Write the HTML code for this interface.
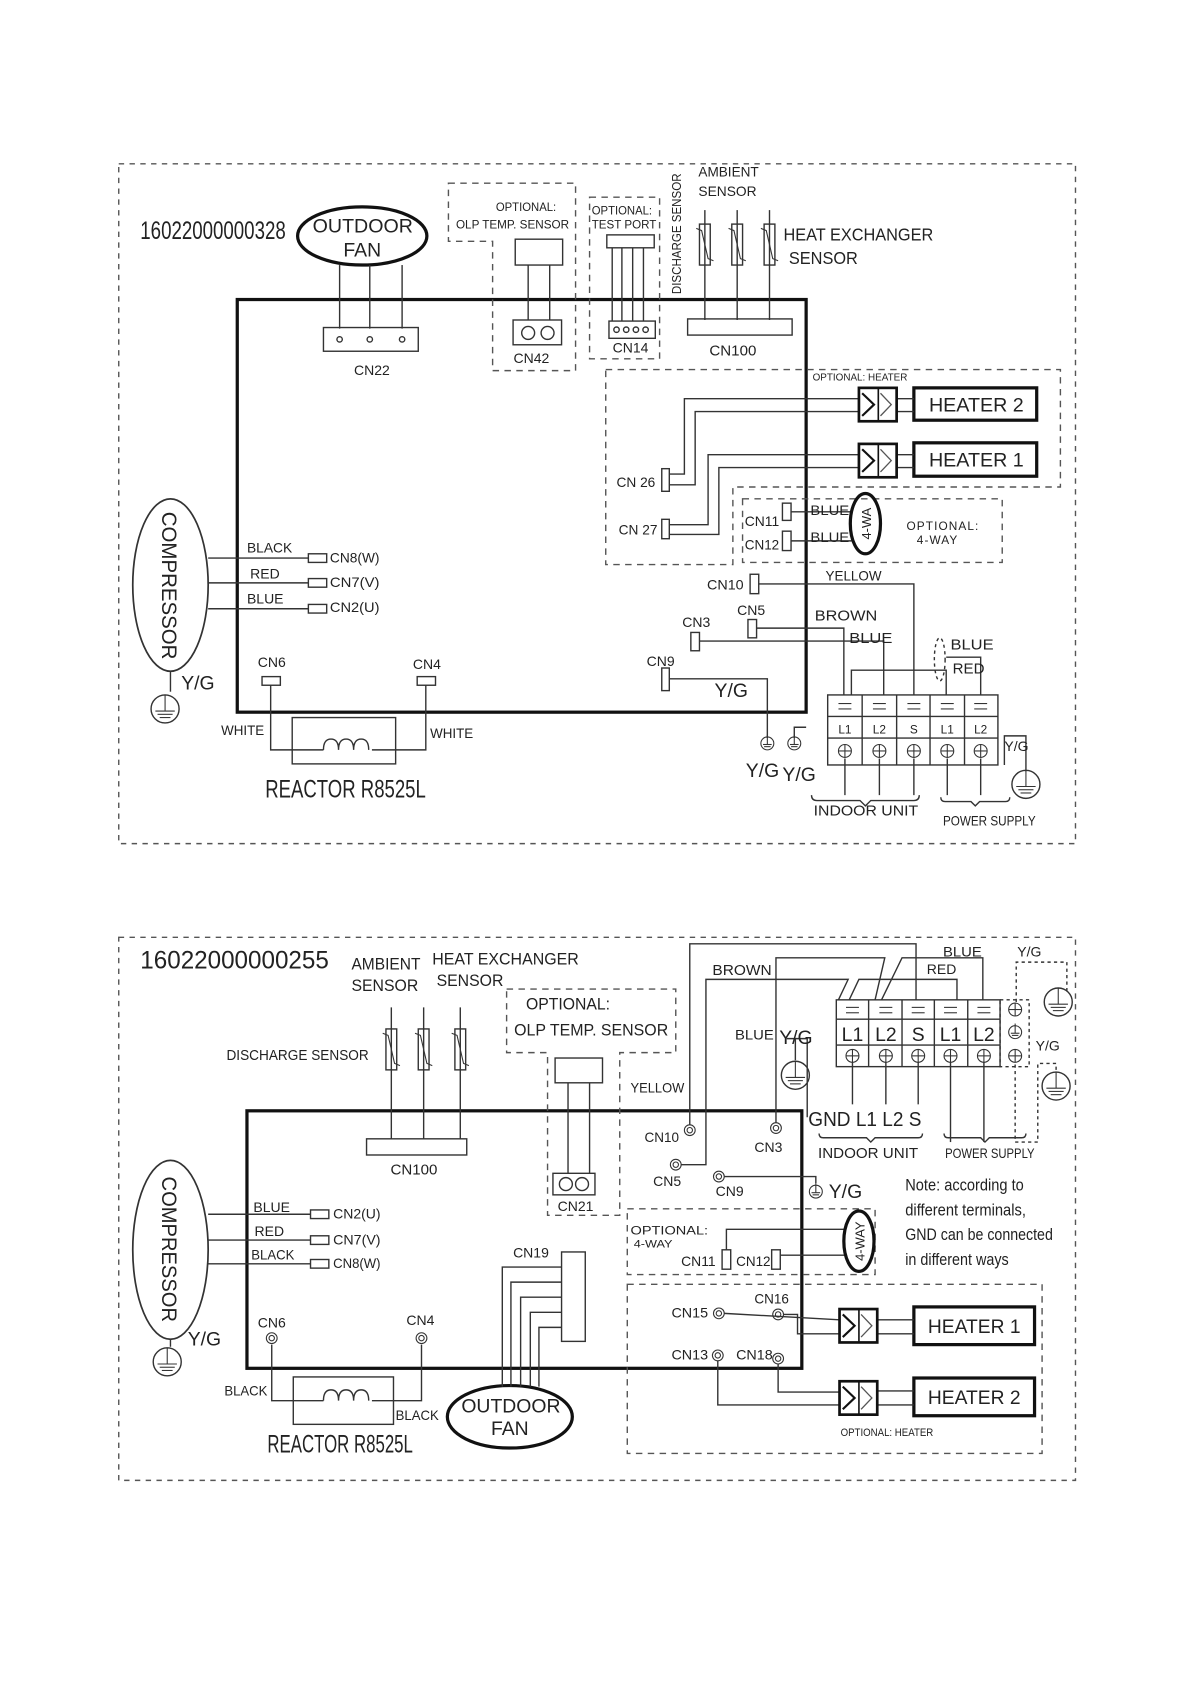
<!DOCTYPE html>
<html><head><meta charset="utf-8"><style>
html,body{margin:0;padding:0;background:#fff;}
svg{display:block;}
text{font-family:"Liberation Sans Narrow","Liberation Sans",sans-serif;fill:#222;}
</style></head><body>
<svg width="1191" height="1684" viewBox="0 0 1105 1563" xmlns="http://www.w3.org/2000/svg">
<defs>
<g id="gnd"><circle cx="0" cy="0" r="13" fill="none" stroke="#333" stroke-width="1.3"/><line x1="0" y1="-13" x2="0" y2="2" stroke="#333"/><line x1="-9" y1="2" x2="9" y2="2" stroke="#333"/><line x1="-7" y1="5" x2="7" y2="5" stroke="#333"/><line x1="-5" y1="8" x2="5" y2="8" stroke="#333"/></g>
<g id="sgnd"><circle cx="0" cy="0" r="6" fill="none" stroke="#333"/><line x1="0" y1="-8" x2="0" y2="1" stroke="#333"/><line x1="-4" y1="1" x2="4" y2="1" stroke="#333"/><line x1="-3" y1="3" x2="3" y2="3" stroke="#333"/></g>
<g id="therm"><rect x="-5" y="0" width="10" height="38" fill="none" stroke="#333" stroke-width="1.3"/><polyline points="-8,4 -3,6 3,32 8,34" fill="none" stroke="#333"/></g>
<g id="relay"><rect x="0" y="0" width="35" height="31" fill="none" stroke="#111" stroke-width="2.5"/><line x1="18" y1="0" x2="18" y2="31" stroke="#111" stroke-width="1.5"/><polyline points="3,5 14,15.5 3,26" fill="none" stroke="#111" stroke-width="2"/><polyline points="20,5 30,15.5 20,26" fill="none" stroke="#555" stroke-width="1.2"/></g>
<g id="cc"><circle r="5" fill="none" stroke="#333"/><circle r="2.5" fill="none" stroke="#333"/></g>
<g id="tp"><circle r="6" fill="none" stroke="#333"/><line x1="-6" y1="0" x2="6" y2="0" stroke="#333"/><line x1="0" y1="-6" x2="0" y2="6" stroke="#333"/></g>
<g id="eq"><line x1="-6" y1="-2" x2="6" y2="-2" stroke="#333"/><line x1="-6" y1="3" x2="6" y2="3" stroke="#333"/></g>
</defs>
<g fill="none" stroke="#555" stroke-width="1.3">
<rect x="110" y="152" width="888" height="631" stroke-dasharray="5,5"/>
</g>
<g fill="none" stroke="#333" stroke-width="1.3">
<rect x="220" y="278" width="528" height="383" stroke="#111" stroke-width="3"/>
<ellipse cx="336" cy="219" rx="60" ry="27" stroke="#111" stroke-width="3"/>
<line x1="315" y1="246" x2="315" y2="305"/><line x1="343" y1="246" x2="343" y2="305"/><line x1="373" y1="246" x2="373" y2="305"/>
<rect x="300" y="304" width="88" height="22"/>
<circle cx="315" cy="315" r="2.5"/><circle cx="343" cy="315" r="2.5"/><circle cx="373" cy="315" r="2.5"/>
<path d="M416 170 H534 V344 H457 V224 H416 Z" stroke-dasharray="6,5" stroke="#555"/>
<rect x="478" y="222" width="44" height="24"/>
<line x1="490" y1="246" x2="490" y2="297"/><line x1="510" y1="246" x2="510" y2="297"/>
<rect x="476" y="297" width="45" height="23"/><circle cx="490" cy="309" r="6"/><circle cx="508" cy="309" r="6"/>
<rect x="547" y="183" width="65" height="150" stroke-dasharray="6,5" stroke="#555"/>
<rect x="563" y="218" width="44" height="12"/>
<line x1="568" y1="230" x2="568" y2="298"/><line x1="577" y1="230" x2="577" y2="298"/><line x1="587" y1="230" x2="587" y2="298"/><line x1="597" y1="230" x2="597" y2="298"/>
<rect x="565" y="298" width="43" height="16"/>
<circle cx="572" cy="306" r="2.5"/><circle cx="581" cy="306" r="2.5"/><circle cx="590" cy="306" r="2.5"/><circle cx="599" cy="306" r="2.5"/>
<line x1="654" y1="195" x2="654" y2="297"/><line x1="684" y1="195" x2="684" y2="297"/><line x1="714" y1="195" x2="714" y2="297"/>
<rect x="638" y="296" width="97" height="15"/>
<path d="M562 343 H984 V452 H680 V524 H562 Z" stroke-dasharray="6,5" stroke="#555"/>
<rect x="689" y="463" width="241" height="59" stroke-dasharray="6,5" stroke="#555"/>
<rect x="848" y="360" width="114" height="30" stroke="#111" stroke-width="3"/>
<rect x="848" y="411" width="114" height="31" stroke="#111" stroke-width="3"/>
<line x1="832" y1="370" x2="848" y2="370"/><line x1="832" y1="382" x2="848" y2="382"/>
<line x1="832" y1="422" x2="848" y2="422"/><line x1="832" y1="434" x2="848" y2="434"/>
<rect x="614" y="435" width="7" height="21"/><rect x="614" y="482" width="7" height="18"/>
<polyline points="621,440 635,440 635,370 797,370"/>
<polyline points="621,450 645,450 645,382 797,382"/>
<polyline points="621,487 657,487 657,422 797,422"/>
<polyline points="621,496 667,496 667,434 797,434"/>
<rect x="726" y="467" width="8" height="16"/><rect x="726" y="493" width="8" height="18"/>
<line x1="734" y1="475" x2="790" y2="475"/><line x1="734" y1="502" x2="790" y2="502"/>
<ellipse cx="803" cy="486" rx="14" ry="28" stroke="#111" stroke-width="3"/>
<rect x="696" y="533" width="8" height="18"/>
<polyline points="704,542 848,542 848,645"/>
<rect x="694" y="575" width="8" height="17"/>
<polyline points="702,583 783,583 783,645"/>
<rect x="641" y="587" width="8" height="17"/>
<polyline points="649,595 820,595 820,645"/>
<rect x="614" y="620" width="7" height="21"/>
<polyline points="621,630 712,630 712,685"/>
<polyline points="737,685 737,675 748,675"/>
<polyline points="790,645 790,622 878,622 878,645"/>
<polyline points="910,645 910,610 878,610"/>
<ellipse cx="872" cy="612" rx="5" ry="20" stroke-dasharray="3,3"/>
<rect x="768" y="645" width="158" height="65"/>
<line x1="768" y1="665" x2="926" y2="665"/><line x1="768" y1="685" x2="926" y2="685"/>
<line x1="800" y1="645" x2="800" y2="710"/><line x1="832" y1="645" x2="832" y2="710"/><line x1="863" y1="645" x2="863" y2="710"/><line x1="895" y1="645" x2="895" y2="710"/>
<line x1="784" y1="704" x2="784" y2="738"/><line x1="816" y1="704" x2="816" y2="738"/><line x1="848" y1="704" x2="848" y2="738"/>
<line x1="879" y1="704" x2="879" y2="738"/><line x1="910" y1="704" x2="910" y2="738"/>
<path d="M753 738 q0 5 5 5 h40 l5 5 l5 -5 h40 q5 0 5 -5"/>
<path d="M873 740 q0 4 4 4 h24 l4 4 l4 -4 h24 q4 0 4 -4"/>
<polyline points="932,710 932,683 952,683 952,716"/>
<ellipse cx="158" cy="543" rx="35" ry="80" stroke-width="1.6"/>
<line x1="193" y1="518" x2="286" y2="518"/><line x1="193" y1="541" x2="286" y2="541"/><line x1="193" y1="565" x2="286" y2="565"/>
<rect x="286" y="514" width="17" height="8"/><rect x="286" y="537" width="17" height="8"/><rect x="286" y="561" width="17" height="8"/>
<line x1="158" y1="623" x2="158" y2="642"/>
<rect x="243" y="628" width="17" height="8"/><rect x="387" y="628" width="17" height="8"/>
<polyline points="251,636 251,696 300,696"/><polyline points="395,636 395,696 345,696"/>
<rect x="271" y="666" width="96" height="43"/>
<path d="M300 696 q0 -10 7 -10 q7 0 7 10 q0 -10 7 -10 q7 0 7 10 q0 -10 7 -10 q7 0 7 10"/>
</g>
<use href="#relay" x="797" y="360"/><use href="#relay" x="797" y="412"/>
<use href="#therm" x="654" y="208"/><use href="#therm" x="684" y="208"/><use href="#therm" x="714" y="208"/>
<use href="#gnd" x="153" y="658"/><use href="#gnd" x="952" y="728"/>
<use href="#sgnd" x="712" y="690"/><use href="#sgnd" x="737" y="690"/>
<use href="#eq" x="784" y="655"/><use href="#eq" x="816" y="655"/><use href="#eq" x="848" y="655"/><use href="#eq" x="879" y="655"/><use href="#eq" x="910" y="655"/>
<use href="#tp" x="784" y="697"/><use href="#tp" x="816" y="697"/><use href="#tp" x="848" y="697"/><use href="#tp" x="879" y="697"/><use href="#tp" x="910" y="697"/>

<g font-size="13" lengthAdjust="spacingAndGlyphs">
<text x="130" y="222" font-size="23" textLength="135" lengthAdjust="spacingAndGlyphs">16022000000328</text>
<text x="290" y="216" font-size="18" textLength="93" lengthAdjust="spacingAndGlyphs">OUTDOOR</text>
<text x="336" y="238" font-size="18" text-anchor="middle">FAN</text>
<text x="345" y="348" text-anchor="middle">CN22</text>
<text x="460" y="196" font-size="11" textLength="56" lengthAdjust="spacingAndGlyphs">OPTIONAL:</text>
<text x="423" y="212" font-size="11" textLength="105" lengthAdjust="spacingAndGlyphs">OLP TEMP. SENSOR</text>
<text x="493" y="337" text-anchor="middle">CN42</text>
<text x="549" y="199" font-size="11" textLength="56" lengthAdjust="spacingAndGlyphs">OPTIONAL:</text>
<text x="549" y="212" font-size="11" textLength="60" lengthAdjust="spacingAndGlyphs">TEST PORT</text>
<text x="585" y="327" text-anchor="middle">CN14</text>
<text transform="translate(632,273) rotate(-90)" font-size="12" textLength="112" lengthAdjust="spacingAndGlyphs">DISCHARGE SENSOR</text>
<text x="648" y="164" textLength="56" lengthAdjust="spacingAndGlyphs">AMBIENT</text>
<text x="648" y="182" textLength="54" lengthAdjust="spacingAndGlyphs">SENSOR</text>
<text x="727" y="223" font-size="16" textLength="139" lengthAdjust="spacingAndGlyphs">HEAT EXCHANGER</text>
<text x="732" y="245" font-size="16" textLength="64" lengthAdjust="spacingAndGlyphs">SENSOR</text>
<text x="680" y="330" font-size="14" text-anchor="middle">CN100</text>
<text x="754" y="353" font-size="9" textLength="88" lengthAdjust="spacingAndGlyphs">OPTIONAL: HEATER</text>
<text x="862" y="382" font-size="18" textLength="88" lengthAdjust="spacingAndGlyphs">HEATER 2</text>
<text x="862" y="433" font-size="18" textLength="88" lengthAdjust="spacingAndGlyphs">HEATER 1</text>
<text x="572" y="452" textLength="36" lengthAdjust="spacingAndGlyphs">CN 26</text>
<text x="574" y="496" textLength="36" lengthAdjust="spacingAndGlyphs">CN 27</text>
<text x="691" y="488" textLength="32" lengthAdjust="spacingAndGlyphs">CN11</text>
<text x="691" y="510" textLength="32" lengthAdjust="spacingAndGlyphs">CN12</text>
<text x="752" y="478" textLength="36" lengthAdjust="spacingAndGlyphs">BLUE</text>
<text x="752" y="503" textLength="36" lengthAdjust="spacingAndGlyphs">BLUE</text>
<text transform="translate(808,486) rotate(-90)" font-size="12" text-anchor="middle">4-WA</text>
<text x="875" y="492" font-size="11" text-anchor="middle" letter-spacing="1">OPTIONAL:</text>
<text x="870" y="505" font-size="11" text-anchor="middle" letter-spacing="1">4-WAY</text>
<text x="656" y="547" textLength="34" lengthAdjust="spacingAndGlyphs">CN10</text>
<text x="766" y="539" textLength="52" lengthAdjust="spacingAndGlyphs">YELLOW</text>
<text x="684" y="571">CN5</text>
<text x="633" y="582">CN3</text>
<text x="756" y="576" font-size="14" textLength="58" lengthAdjust="spacingAndGlyphs">BROWN</text>
<text x="788" y="597" font-size="14" textLength="40" lengthAdjust="spacingAndGlyphs">BLUE</text>
<text x="600" y="618">CN9</text>
<text x="663" y="647" font-size="18">Y/G</text>
<text x="882" y="603" font-size="14" textLength="40" lengthAdjust="spacingAndGlyphs">BLUE</text>
<text x="884" y="625" font-size="14">RED</text>
<text x="784" y="681" font-size="11" text-anchor="middle">L1</text>
<text x="816" y="681" font-size="11" text-anchor="middle">L2</text>
<text x="848" y="681" font-size="11" text-anchor="middle">S</text>
<text x="879" y="681" font-size="11" text-anchor="middle">L1</text>
<text x="910" y="681" font-size="11" text-anchor="middle">L2</text>
<text x="932" y="697">Y/G</text>
<text x="692" y="721" font-size="18">Y/G</text>
<text x="726" y="725" font-size="18">Y/G</text>
<text x="755" y="757" font-size="14" textLength="97" lengthAdjust="spacingAndGlyphs">INDOOR UNIT</text>
<text x="875" y="766" font-size="13" textLength="86" lengthAdjust="spacingAndGlyphs">POWER SUPPLY</text>
<text transform="translate(150,475) rotate(90)" font-size="20" textLength="137" lengthAdjust="spacingAndGlyphs">COMPRESSOR</text>
<text x="229" y="513" textLength="42" lengthAdjust="spacingAndGlyphs">BLACK</text>
<text x="232" y="537">RED</text>
<text x="229" y="560">BLUE</text>
<text x="306" y="522" textLength="46" lengthAdjust="spacingAndGlyphs">CN8(W)</text>
<text x="306" y="545" textLength="46" lengthAdjust="spacingAndGlyphs">CN7(V)</text>
<text x="306" y="568" textLength="46" lengthAdjust="spacingAndGlyphs">CN2(U)</text>
<text x="168" y="640" font-size="18">Y/G</text>
<text x="252" y="619" text-anchor="middle">CN6</text>
<text x="396" y="621" text-anchor="middle">CN4</text>
<text x="205" y="682" textLength="40" lengthAdjust="spacingAndGlyphs">WHITE</text>
<text x="399" y="685" textLength="40" lengthAdjust="spacingAndGlyphs">WHITE</text>
<text x="246" y="740" font-size="23" textLength="149" lengthAdjust="spacingAndGlyphs">REACTOR R8525L</text>
</g>

<!-- BOTTOM -->
<g fill="none" stroke="#333" stroke-width="1.3">
<rect x="110" y="870" width="888" height="504" stroke-dasharray="5,5" stroke="#555"/>
<rect x="229" y="1031" width="515" height="239" stroke="#111" stroke-width="3"/>
<line x1="363" y1="935" x2="363" y2="1057"/><line x1="393" y1="935" x2="393" y2="1057"/><line x1="427" y1="935" x2="427" y2="1057"/>
<rect x="340" y="1057" width="93" height="15"/>
<path d="M470 918 H627 V977 H575 V1128 H508 V977 H470 Z" stroke-dasharray="6,5" stroke="#555"/>
<rect x="515" y="982" width="44" height="23"/>
<line x1="527" y1="1005" x2="527" y2="1089"/><line x1="547" y1="1005" x2="547" y2="1089"/>
<rect x="513" y="1089" width="39" height="20"/><circle cx="525" cy="1099" r="6"/><circle cx="540" cy="1099" r="6"/>
<ellipse cx="158" cy="1160" rx="35" ry="83" stroke-width="1.6"/>
<line x1="193" y1="1127" x2="288" y2="1127"/><line x1="193" y1="1151" x2="288" y2="1151"/><line x1="193" y1="1173" x2="288" y2="1173"/>
<rect x="288" y="1123" width="17" height="8"/><rect x="288" y="1147" width="17" height="8"/><rect x="288" y="1169" width="17" height="8"/>
<line x1="158" y1="1243" x2="158" y2="1250"/>
<polyline points="252,1248 252,1300 300,1300"/><polyline points="391,1248 391,1300 345,1300"/>
<rect x="272" y="1278" width="93" height="44"/>
<path d="M300 1300 q0 -10 7 -10 q7 0 7 10 q0 -10 7 -10 q7 0 7 10 q0 -10 7 -10 q7 0 7 10"/>
<ellipse cx="473" cy="1315" rx="58" ry="29" stroke="#111" stroke-width="3"/>
<rect x="521" y="1162" width="22" height="83"/>
<polyline points="466,1287 466,1176 521,1176"/><polyline points="474,1287 474,1190 521,1190"/><polyline points="483,1287 483,1204 521,1204"/><polyline points="492,1287 492,1218 521,1218"/><polyline points="500,1287 500,1232 521,1232"/>
<polyline points="640,1044 640,876 850,876 850,928"/>
<polyline points="632,1081 655,1081 655,909 787,909 778,928"/>
<polyline points="720,1042 720,889 821,889 812,928"/>
<polyline points="912,928 912,889 837,889 818,928"/>
<polyline points="888,928 888,909 797,909 788,928"/>
<polyline points="672,1092 757,1092 757,1098"/>
<polyline points="749,1037 749,964 730,964"/>
<polyline points="738,984 738,964"/>
<rect x="776" y="928" width="152" height="62"/>
<line x1="776" y1="946" x2="928" y2="946"/><line x1="776" y1="970" x2="928" y2="970"/>
<line x1="806" y1="928" x2="806" y2="990"/><line x1="837" y1="928" x2="837" y2="990"/><line x1="867" y1="928" x2="867" y2="990"/><line x1="898" y1="928" x2="898" y2="990"/>
<rect x="928" y="928" width="27" height="62" stroke-dasharray="3,3"/>
<line x1="791" y1="986" x2="791" y2="1025"/><line x1="822" y1="986" x2="822" y2="1025"/><line x1="852" y1="986" x2="852" y2="1025"/>
<line x1="882" y1="986" x2="882" y2="1060"/><line x1="913" y1="986" x2="913" y2="1060"/>
<path d="M943 930 V893 H990 V920" stroke-dasharray="3,3"/>
<path d="M942 988 V1060 H963 V987 H980 V996" stroke-dasharray="3,3"/>
<path d="M760 1052 q0 4 4 4 h40 l4 4 l4 -4 h40 q4 0 4 -4"/>
<path d="M876 1052 q0 4 4 4 h30 l4 4 l4 -4 h30 q4 0 4 -4"/>
<rect x="582" y="1122" width="230" height="61" stroke-dasharray="6,5" stroke="#555"/>
<rect x="670" y="1160" width="8" height="18"/><rect x="716" y="1160" width="8" height="18"/>
<polyline points="674,1160 674,1141 785,1141"/><polyline points="724,1165 785,1165"/>
<ellipse cx="797" cy="1152" rx="14" ry="28" stroke="#111" stroke-width="3"/>
<rect x="582" y="1192" width="385" height="157" stroke-dasharray="6,5" stroke="#555"/>
<rect x="848" y="1213" width="112" height="35" stroke="#111" stroke-width="3"/>
<rect x="848" y="1279" width="112" height="35" stroke="#111" stroke-width="3"/>
<line x1="814" y1="1225" x2="848" y2="1225"/><line x1="814" y1="1238" x2="848" y2="1238"/>
<line x1="814" y1="1291" x2="848" y2="1291"/><line x1="814" y1="1304" x2="848" y2="1304"/>
<polyline points="672,1219 779,1225"/>
<polyline points="727,1220 740,1220 740,1238 779,1238"/>
<polyline points="666,1263 666,1304 779,1304"/>
<polyline points="722,1266 722,1292 779,1292"/>
</g>
<use href="#therm" x="363" y="955"/><use href="#therm" x="393" y="955"/><use href="#therm" x="427" y="955"/>
<use href="#relay" x="779" y="1215"/><use href="#relay" x="779" y="1282"/>
<use href="#gnd" x="155" y="1264"/><use href="#gnd" x="738" y="998"/><use href="#gnd" x="982" y="930"/><use href="#gnd" x="980" y="1008"/>
<use href="#sgnd" x="757" y="1106"/>
<use href="#cc" x="252" y="1242"/><use href="#cc" x="391" y="1242"/>
<use href="#cc" x="640" y="1049"/><use href="#cc" x="720" y="1047"/><use href="#cc" x="627" y="1081"/><use href="#cc" x="667" y="1092"/>
<use href="#cc" x="667" y="1219"/><use href="#cc" x="722" y="1220"/><use href="#cc" x="666" y="1258"/><use href="#cc" x="722" y="1261"/>
<use href="#eq" x="791" y="937"/><use href="#eq" x="822" y="937"/><use href="#eq" x="852" y="937"/><use href="#eq" x="882" y="937"/><use href="#eq" x="913" y="937"/>
<use href="#tp" x="791" y="980"/><use href="#tp" x="822" y="980"/><use href="#tp" x="852" y="980"/><use href="#tp" x="882" y="980"/><use href="#tp" x="913" y="980"/>
<use href="#tp" x="942" y="937"/><use href="#tp" x="942" y="980"/><use href="#sgnd" x="942" y="958"/>

<g font-size="13">
<text x="130" y="899" font-size="23" textLength="175" lengthAdjust="spacingAndGlyphs">16022000000255</text>
<text x="326" y="900" font-size="15" textLength="64" lengthAdjust="spacingAndGlyphs">AMBIENT</text>
<text x="326" y="920" font-size="15" textLength="62" lengthAdjust="spacingAndGlyphs">SENSOR</text>
<text x="401" y="895" font-size="15" textLength="136" lengthAdjust="spacingAndGlyphs">HEAT EXCHANGER</text>
<text x="405" y="915" font-size="15" textLength="62" lengthAdjust="spacingAndGlyphs">SENSOR</text>
<text x="210" y="984" font-size="14" textLength="132" lengthAdjust="spacingAndGlyphs">DISCHARGE SENSOR</text>
<text x="384" y="1090" font-size="14" text-anchor="middle">CN100</text>
<text x="488" y="937" font-size="15" textLength="78" lengthAdjust="spacingAndGlyphs">OPTIONAL:</text>
<text x="477" y="961" font-size="15" textLength="143" lengthAdjust="spacingAndGlyphs">OLP TEMP. SENSOR</text>
<text x="534" y="1124" text-anchor="middle">CN21</text>
<text x="585" y="1014" textLength="50" lengthAdjust="spacingAndGlyphs">YELLOW</text>
<text x="661" y="905" font-size="14" textLength="55" lengthAdjust="spacingAndGlyphs">BROWN</text>
<text x="682" y="965" textLength="36" lengthAdjust="spacingAndGlyphs">BLUE</text>
<text x="723" y="969" font-size="18">Y/G</text>
<text x="875" y="888" font-size="13" textLength="36" lengthAdjust="spacingAndGlyphs">BLUE</text>
<text x="860" y="904" font-size="13">RED</text>
<text x="944" y="888" font-size="13">Y/G</text>
<text x="961" y="975" font-size="13">Y/G</text>
<text x="791" y="966" font-size="18" text-anchor="middle">L1</text>
<text x="822" y="966" font-size="18" text-anchor="middle">L2</text>
<text x="852" y="966" font-size="18" text-anchor="middle">S</text>
<text x="882" y="966" font-size="18" text-anchor="middle">L1</text>
<text x="913" y="966" font-size="18" text-anchor="middle">L2</text>
<text x="750" y="1045" font-size="19" textLength="105" lengthAdjust="spacingAndGlyphs">GND L1 L2 S</text>
<text x="759" y="1075" font-size="14" textLength="93" lengthAdjust="spacingAndGlyphs">INDOOR UNIT</text>
<text x="877" y="1075" font-size="13" textLength="83" lengthAdjust="spacingAndGlyphs">POWER SUPPLY</text>
<text x="840" y="1105" font-size="15" textLength="110" lengthAdjust="spacingAndGlyphs">Note: according  to</text>
<text x="840" y="1128" font-size="15" textLength="112" lengthAdjust="spacingAndGlyphs">different  terminals,</text>
<text x="840" y="1151" font-size="15" textLength="137" lengthAdjust="spacingAndGlyphs">GND can be connected</text>
<text x="840" y="1174" font-size="15" textLength="96" lengthAdjust="spacingAndGlyphs">in different ways</text>
<text x="598" y="1060" textLength="32" lengthAdjust="spacingAndGlyphs">CN10</text>
<text x="700" y="1069">CN3</text>
<text x="606" y="1101">CN5</text>
<text x="664" y="1110">CN9</text>
<text x="769" y="1112" font-size="18">Y/G</text>
<text transform="translate(150,1092) rotate(90)" font-size="20" textLength="135" lengthAdjust="spacingAndGlyphs">COMPRESSOR</text>
<text x="235" y="1125">BLUE</text>
<text x="236" y="1147">RED</text>
<text x="233" y="1169" textLength="40" lengthAdjust="spacingAndGlyphs">BLACK</text>
<text x="309" y="1131" textLength="44" lengthAdjust="spacingAndGlyphs">CN2(U)</text>
<text x="309" y="1155" textLength="44" lengthAdjust="spacingAndGlyphs">CN7(V)</text>
<text x="309" y="1177" textLength="44" lengthAdjust="spacingAndGlyphs">CN8(W)</text>
<text x="174" y="1249" font-size="18">Y/G</text>
<text x="252" y="1232" text-anchor="middle">CN6</text>
<text x="390" y="1230" text-anchor="middle">CN4</text>
<text x="208" y="1295" textLength="40" lengthAdjust="spacingAndGlyphs">BLACK</text>
<text x="367" y="1318" textLength="40" lengthAdjust="spacingAndGlyphs">BLACK</text>
<text x="248" y="1348" font-size="23" textLength="135" lengthAdjust="spacingAndGlyphs">REACTOR R8525L</text>
<text x="428" y="1311" font-size="18" textLength="92" lengthAdjust="spacingAndGlyphs">OUTDOOR</text>
<text x="473" y="1332" font-size="18" text-anchor="middle">FAN</text>
<text x="476" y="1167">CN19</text>
<text x="585" y="1146" font-size="11" textLength="72" lengthAdjust="spacingAndGlyphs">OPTIONAL:</text>
<text x="588" y="1158" font-size="10" textLength="36" lengthAdjust="spacingAndGlyphs">4-WAY</text>
<text x="632" y="1175" textLength="32" lengthAdjust="spacingAndGlyphs">CN11</text>
<text x="683" y="1175" textLength="32" lengthAdjust="spacingAndGlyphs">CN12</text>
<text transform="translate(802,1152) rotate(-90)" font-size="12" text-anchor="middle">4-WAY</text>
<text x="623" y="1223" textLength="34" lengthAdjust="spacingAndGlyphs">CN15</text>
<text x="700" y="1210" textLength="32" lengthAdjust="spacingAndGlyphs">CN16</text>
<text x="623" y="1262" textLength="34" lengthAdjust="spacingAndGlyphs">CN13</text>
<text x="683" y="1262" textLength="34" lengthAdjust="spacingAndGlyphs">CN18</text>
<text x="861" y="1237" font-size="18" textLength="86" lengthAdjust="spacingAndGlyphs">HEATER 1</text>
<text x="861" y="1303" font-size="18" textLength="86" lengthAdjust="spacingAndGlyphs">HEATER 2</text>
<text x="780" y="1333" font-size="10" textLength="86" lengthAdjust="spacingAndGlyphs">OPTIONAL: HEATER</text>
</g>
</svg>
</body></html>
